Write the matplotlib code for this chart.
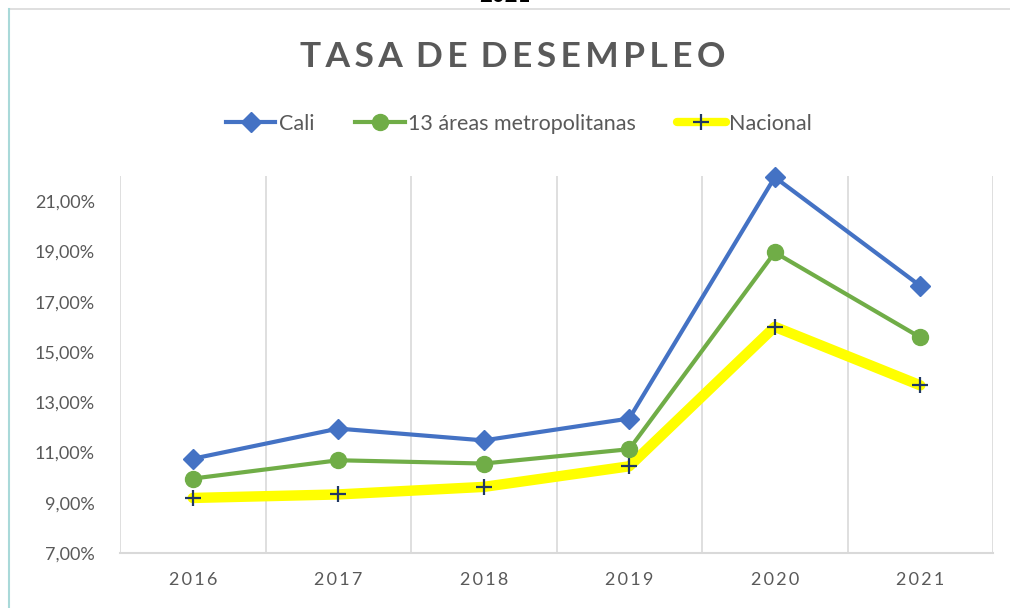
import matplotlib
matplotlib.use("Agg")
import matplotlib.pyplot as plt
from matplotlib.patches import Rectangle
from matplotlib.lines import Line2D

years = ["2016", "2017", "2018", "2019", "2020", "2021"]
cali = [10.75, 11.95, 11.48, 12.35, 21.95, 17.63]
areas13 = [9.96, 10.69, 10.56, 11.13, 18.96, 15.58]
nacional = [9.19, 9.33, 9.63, 10.45, 16.00, 13.67]
yticks = [7, 9, 11, 13, 15, 17, 19, 21]

FONT = ["Lato", "DejaVu Sans"]
plt.rcParams["font.family"] = FONT
GRAY = "#595959"

fig = plt.figure(figsize=(10.10, 6.08), dpi=100)
W, H = 1010, 608

# outer border
fig.add_artist(Rectangle((9 / W, -0.01), 1.2, 1 - 9 / H + 0.01, transform=fig.transFigure,
                         fill=False, edgecolor="#D9D9D9", lw=1.2))
fig.add_artist(Line2D([9 / W, 9 / W], [0, 1 - 9 / H], transform=fig.transFigure,
                      color="#A9D9D9", lw=1.5))
# clipped text above (cut off in the reference too)
fig.text(505 / W, 1 + 4 / H, "2021", ha="center", va="center", fontsize=16,
         fontweight="bold", color="black")

ax = fig.add_axes([120 / W, 1 - 553 / H, (993 - 120) / W, (553 - 176) / H])
x = list(range(len(years)))

ax.plot(x, nacional, color="#FFFF00", lw=7.5, marker="+", markersize=11,
        markeredgecolor="#203864", markeredgewidth=1.6, label="Nacional", zorder=3,
        solid_capstyle="round", clip_on=False)
ax.plot(x, areas13, color="#70AD47", lw=3, marker="o", markersize=11.5,
        markeredgecolor="#70AD47", label="13 áreas metropolitanas", zorder=4,
        clip_on=False)
ax.plot(x, cali, color="#4472C4", lw=3, marker="D", markersize=10,
        markeredgecolor="#4472C4", label="Cali", zorder=5, clip_on=False)

ax.set_xlim(-0.5, len(years) - 0.5)
ax.set_ylim(7, 22)
ax.set_yticks(yticks)
ax.set_yticklabels([f"{v:.2f}%".replace(".", ",") for v in yticks],
                   fontsize=13, color=GRAY)
ax.set_xticks(x)
ax.set_xticklabels(["\u2009".join(y) for y in years], fontsize=13, color=GRAY)
ax.tick_params(axis="both", length=0)
ax.tick_params(axis="x", pad=14)
ax.tick_params(axis="y", pad=18)
for xv in [i + 0.5 for i in range(-1, len(years))]:
    ax.axvline(xv, color="#D9D9D9", lw=1.2, zorder=1)
for s in ["top", "right", "left"]:
    ax.spines[s].set_visible(False)
ax.spines["bottom"].set_color("#D9D9D9")
ax.spines["bottom"].set_linewidth(1.5)

title = "\u2009 ".join("\u2009".join(w) for w in "TASA DE DESEMPLEO".split(" "))
fig.text(513 / W, 1 - 57 / H, title,
         ha="center", va="center", fontsize=25.5, fontweight="bold", color=GRAY)

handles, labels = ax.get_legend_handles_labels()
order = [2, 1, 0]
leg = fig.legend([handles[i] for i in order], [labels[i] for i in order],
                 loc="center", bbox_to_anchor=(519 / W, 1 - 124 / H), ncol=3,
                 frameon=False, fontsize=15.5, handlelength=2.3, columnspacing=1.9,
                 handletextpad=0.15, labelcolor=GRAY)
leg_lines = leg.get_lines()
leg_lines[2].set_linewidth(6)
leg_lines[2].set_solid_capstyle("round")

fig.savefig("out.png", dpi=100)
